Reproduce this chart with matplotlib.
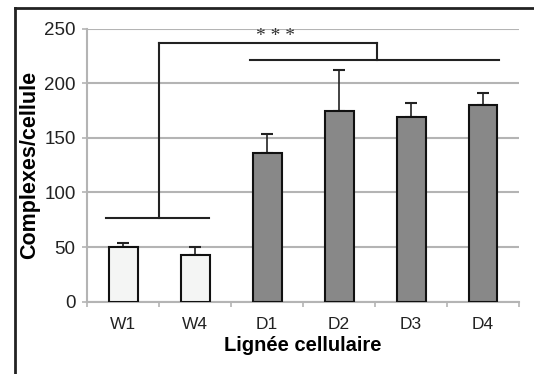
import matplotlib.pyplot as plt
import numpy as np
from matplotlib.lines import Line2D

plt.rcParams["font.family"] = ["Liberation Sans", "DejaVu Sans"]

# data
lines = ["W1", "W4", "D1", "D2", "D3", "D4"]
means = [50, 43, 136.5, 175, 169.5, 180]
err_top = [54, 50, 154, 212, 182, 191]
colors = ["#f4f5f4", "#f4f5f4", "#888888", "#888888", "#888888", "#888888"]

# significance bracket (left group, right group, levels)
group_left = [-0.24, 1.19]
group_right = [1.76, 5.22]
level_left = 76.5
level_right = 221.5
level_top = 236.5
bracket_x = [0.49, 3.53]
stars_x = 2.12
stars_y = 243

fig = plt.figure(figsize=(5.34, 3.74), dpi=100)
ax = fig.add_axes([0.1635, 0.1933, 0.8085, 0.73])

x = np.arange(len(lines))
ax.bar(x, means, width=0.4, color=colors, edgecolor="#111111", linewidth=1.5, zorder=3)
upper = np.array(err_top) - np.array(means)
ax.errorbar(x, means, yerr=[np.zeros(len(x)), upper], fmt="none", ecolor="#222222",
            elinewidth=1.2, capsize=4, capthick=1.5, zorder=2)

ax.set_xlim(-0.5, 5.5)
ax.set_ylim(0, 250)
ax.set_yticks(range(0, 251, 50))
ax.set_xticks(x)
ax.set_xticklabels(lines)
ax.set_xticks(np.arange(-0.5, 5.6, 1), minor=True)

ax.yaxis.grid(True, color="#b4b4b4", linewidth=1.5, zorder=0)
ax.set_axisbelow(True)
for side in ["top", "right"]:
    ax.spines[side].set_visible(False)
for side in ["left", "bottom"]:
    ax.spines[side].set_color("#b4b4b4")
    ax.spines[side].set_linewidth(1.5)

ax.tick_params(axis="x", which="major", length=0, pad=11, labelsize=12.5, labelcolor="#222222")
ax.tick_params(axis="x", which="minor", length=3.5, color="#b4b4b4", width=1.2)
ax.tick_params(axis="y", length=3.5, color="#b4b4b4", width=1.2, pad=5,
               labelsize=13.5, labelcolor="#222222")

ax.set_xlabel("Lignée cellulaire", fontsize=14.5, fontweight="bold", labelpad=3)
ax.set_ylabel("Complexes/cellule", fontsize=15.5, fontweight="bold", labelpad=3)

# significance bracket
kw = dict(color="#222222", linewidth=1.5, zorder=4, clip_on=False)
ax.plot(group_left, [level_left, level_left], **kw)
ax.plot(group_right, [level_right, level_right], **kw)
ax.plot([bracket_x[0], bracket_x[0]], [level_left, level_top], **kw)
ax.plot([bracket_x[1], bracket_x[1]], [level_right, level_top], **kw)
ax.plot(bracket_x, [level_top, level_top], **kw)
ax.text(stars_x, stars_y, "* * *", family="Liberation Serif", fontsize=14,
        color="#333333", ha="center", va="center")

# partial border of the original figure panel
fig.add_artist(Line2D([15 / 534, 15 / 534], [0, 1 - 7.5 / 374], color="#222222", linewidth=2))
fig.add_artist(Line2D([15 / 534, 1], [1 - 7.5 / 374, 1 - 7.5 / 374], color="#222222", linewidth=2))

fig.savefig("out.png", dpi=100)
